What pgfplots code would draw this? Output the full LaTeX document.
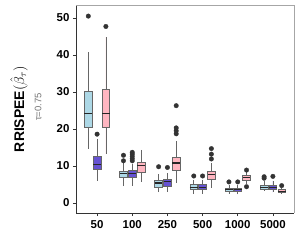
\documentclass[border=0pt]{standalone}
\usepackage{fontspec}
\setmainfont{Liberation Sans}
\usepackage{pgfplots}
\pgfplotsset{compat=1.18}
\usepgfplotslibrary{statistics}
\definecolor{cA}{HTML}{ADD8E6}
\definecolor{cB}{HTML}{6652D2}
\definecolor{cC}{HTML}{FFB6C1}
\definecolor{bord}{HTML}{666666}
\definecolor{ptc}{HTML}{333333}
% pos, fill, lw, lq, med, uq, uw
\newcommand{\bp}[7]{%
\addplot[boxplot prepared={draw position=#1, lower whisker=#3, lower quartile=#4, median=#5, upper quartile=#6, upper whisker=#7, box extend=0.22, whisker extend=0}, boxplot/draw direction=y, fill=#2, draw=bord, line width=0.6pt, mark=none] coordinates {};}
\begin{document}
\begin{tikzpicture}
\path[use as bounding box] (-76bp,-38bp) rectangle (225bp,213bp);
\begin{axis}[
  at={(0,0)}, anchor=south west,
  scale only axis, width=218bp, height=208bp,
  xmin=-0.6, xmax=5.6, ymin=-2.7, ymax=53.5,
  axis x line*=bottom, axis y line*=left,
  axis line style={draw=ptc, line width=0.8pt, -},
  xtick={0,1,2,3,4,5},
  xticklabels={50,100,250,500,1000,5000},
  ytick={0,10,20,30,40,50},
  tick style={draw=ptc, line width=0.6pt},
  tick align=outside, major tick length=3bp,
  /pgf/number format/assume math mode=true,
  ticklabel style={font=\bfseries\fontsize{11.5}{12}\selectfont, text=black},
  xticklabel style={yshift=-1bp},
  boxplot/draw direction=y,
  boxplot/every median/.style={draw=black!85, line width=1.1pt},
  clip=false,
]
\draw[gray!70, line width=0.6pt] (rel axis cs:0,1) -- (rel axis cs:1,1) -- (rel axis cs:1,0);
% 50
\bp{-0.25}{cA}{14.6}{20.4}{24.1}{30.3}{40.7}
\bp{0}{cB}{6.0}{9.1}{10.5}{12.6}{17.3}
\bp{0.25}{cC}{13.2}{20.4}{24.3}{30.6}{44.9}
% 100
\bp{0.75}{cA}{4.5}{6.9}{7.9}{8.7}{10.8}
\bp{1}{cB}{4.7}{7.0}{7.9}{8.9}{10.5}
\bp{1.25}{cC}{5.8}{8.2}{10.2}{11.1}{14.4}
% 250
\bp{1.75}{cA}{2.9}{4.3}{5.4}{6.2}{7.9}
\bp{2}{cB}{3.0}{4.5}{5.7}{6.5}{8.1}
\bp{2.25}{cC}{5.4}{8.8}{10.8}{12.4}{16.7}
% 500
\bp{2.75}{cA}{2.4}{3.6}{4.2}{5.0}{6.3}
\bp{3}{cB}{2.5}{3.6}{4.3}{5.0}{6.3}
\bp{3.25}{cC}{4.0}{6.5}{7.7}{8.5}{10.8}
% 1000
\bp{3.75}{cA}{2.4}{3.2}{3.7}{4.1}{4.9}
\bp{4}{cB}{2.3}{3.1}{3.6}{4.1}{4.9}
\bp{4.25}{cC}{5.1}{6.1}{6.8}{7.4}{8.3}
% 5000
\bp{4.75}{cA}{3.2}{3.6}{4.2}{4.8}{6.0}
\bp{5}{cB}{2.9}{3.7}{4.3}{4.8}{6.0}
\bp{5.25}{cC}{2.5}{2.8}{3.2}{3.6}{4.0}
% outliers
\addplot[only marks, mark=*, mark size=2.3pt, mark options={fill=ptc, draw=ptc, line width=0.3pt}] coordinates {
 (-0.25,50.5) (0,18.6) (0.25,47.7)
 (0.75,11.4) (0.75,12.9)
 (1,11.4) (1,12.0) (1,12.6) (1,13.2) (1,13.7)
 (1.75,9.8) (2,9.6)
 (2.25,18.7) (2.25,19.5) (2.25,20.3) (2.25,26.3)
 (2.75,7.3) (3,7.3)
 (3.25,11.9) (3.25,13.2) (3.25,14.7)
 (3.75,5.7) (4,5.7)
 (4.25,8.9) (4.25,4.4)
 (4.75,6.7) (4.75,7.1) (5,7.2) (5.25,4.7)
};
\end{axis}
\node[rotate=90, font=\bfseries\fontsize{14}{14}\selectfont, text=black] at (-57bp,104bp) {RRISPEE$(\hat{\beta}_\tau)$};
\node[rotate=90, font=\fontsize{9.5}{10}\selectfont, text=gray!90!black] at (-38bp,106bp) {τ=0.75};
\end{tikzpicture}
\end{document}
